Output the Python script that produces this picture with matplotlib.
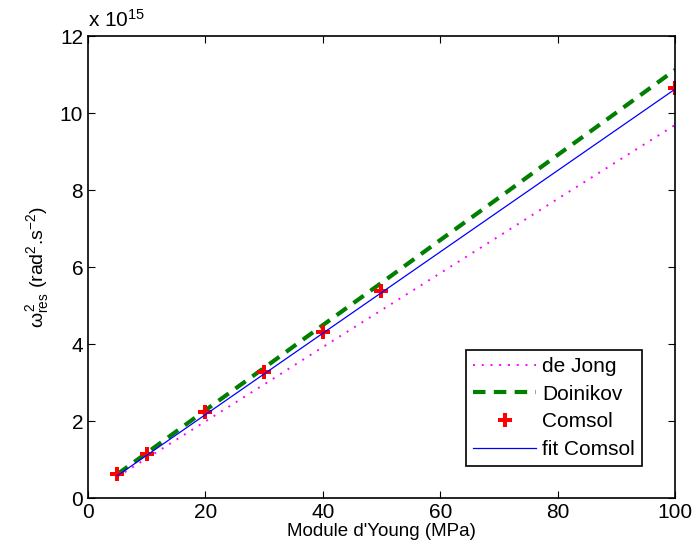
import matplotlib.pyplot as plt
import numpy as np

plt.rcParams['font.family'] = ['Liberation Sans', 'DejaVu Sans']
plt.rcParams['mathtext.fontset'] = 'custom'
plt.rcParams['mathtext.rm'] = 'Liberation Sans'
plt.rcParams['mathtext.it'] = 'Liberation Sans'

# Young's modulus (MPa)
E_model = [5, 10, 20, 30, 40, 50, 60, 70, 80, 90, 100]
# omega_res^2 in units of 1e15 rad^2.s^-2
de_jong = [0.55, 1.03, 1.99, 2.95, 3.92, 4.88, 5.84, 6.80, 7.77, 8.73, 9.69]
doinikov = [0.62, 1.17, 2.28, 3.38, 4.49, 5.59, 6.70, 7.80, 8.91, 10.01, 11.12]

E_comsol = [5, 10, 20, 30, 40, 50, 100]
comsol = [0.62, 1.14, 2.23, 3.27, 4.31, 5.38, 10.65]

fit_x = [5, 100]
fit_y = [0.58, 10.62]

fig = plt.figure(figsize=(6.93, 5.55), dpi=100)
ax = fig.add_axes([0.127, 0.1027, 0.847, 0.8323])

ax.plot(E_model, de_jong, ':', color='#ff00ff', lw=1.4, dashes=(1, 3.5), label='de Jong')
ax.plot(E_model, doinikov, '--', color='#007f00', lw=3, dashes=(3, 2), label='Doinikov')
ax.plot(E_comsol, comsol, 'P', color='red', ms=10.5, mew=0, ls='none', label='Comsol')
ax.plot(fit_x, fit_y, '-', color='blue', lw=0.9, label='fit Comsol')

ax.set_xlim(0, 100)
ax.set_ylim(0, 12)
ax.set_xticks(np.arange(0, 101, 20))
ax.set_yticks(np.arange(0, 13, 2))
ax.tick_params(direction='in', top=True, right=True, labelsize=15, length=5)
for s in ax.spines.values():
    s.set_linewidth(1.2)

ax.set_xlabel("Module d'Young (MPa)", fontsize=13.5, labelpad=1)
ax.set_ylabel(r'$\omega^2_{\rm res}$ (rad$^2$.s$^{-2}$)', fontsize=14, labelpad=6)
ax.text(0.0, 1.012, r'x 10$^{15}$', transform=ax.transAxes, fontsize=15, ha='left', va='bottom')

leg = ax.legend(loc='lower right', bbox_to_anchor=(0.962, 0.046), fontsize=15,
                fancybox=False, edgecolor='black', framealpha=1,
                handlelength=3.0, borderpad=0.35, labelspacing=0.42, handletextpad=0.3)
leg.get_frame().set_linewidth(1.2)

fig.savefig('out.png', dpi=100)
